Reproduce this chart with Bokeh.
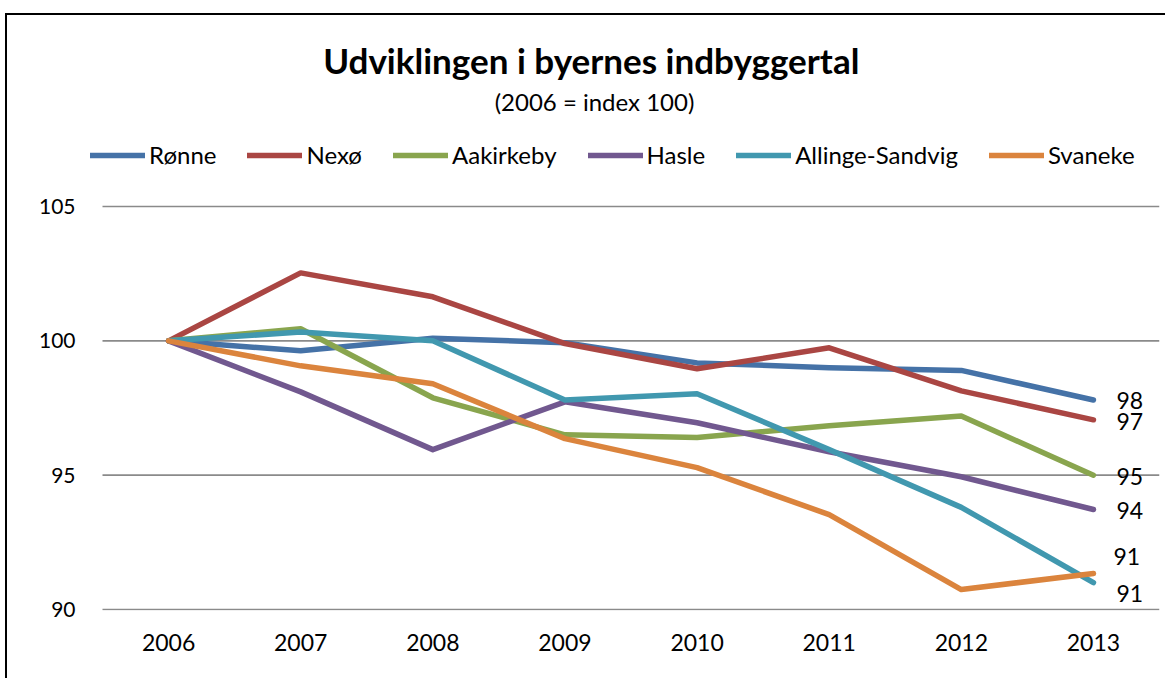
from bokeh.plotting import figure
from bokeh.models import (Range1d, FixedTicker, Legend, LegendItem, Label,
                          ColumnDataSource)
from bokeh.core.properties import value
from bokeh.embed import file_html
from bokeh.resources import INLINE

# ---------------- data ----------------
years = [2006, 2007, 2008, 2009, 2010, 2011, 2012, 2013]
year_labels = ["2006", "2007", "2008", "2009", "2010", "2011", "2012", "2013"]
series_names = ["Rønne", "Nexø", "Aakirkeby", "Hasle", "Allinge-Sandvig", "Svaneke"]
ronne = [100.0, 99.63, 100.10, 99.93, 99.18, 99.00, 98.90, 97.80]
nexo = [100.0, 102.53, 101.64, 99.90, 98.96, 99.74, 98.14, 97.06]
aakirkeby = [100.0, 100.45, 97.88, 96.50, 96.40, 96.84, 97.20, 95.00]
hasle = [100.0, 98.10, 95.95, 97.73, 96.95, 95.87, 94.94, 93.72]
allinge = [100.0, 100.33, 100.00, 97.80, 98.03, 95.95, 93.80, 91.00]
svaneke = [100.0, 99.07, 98.40, 96.36, 95.28, 93.53, 90.74, 91.34]
y_ticks = [90, 95, 100, 105]

series = [ronne, nexo, aakirkeby, hasle, allinge, svaneke]
colors = ["#4572A7", "#AA4643", "#89A54E", "#71588F", "#4198AF", "#DB843D"]

# ---------------- geometry (page pixels) ----------------
CANVAS_X0, CANVAS_Y0 = 8, 15          # where the canvas lands on the page
FRAME_L, FRAME_R = 84, 1160           # frame left / right (page px)
FRAME_T, FRAME_B = 15, 610            # frame top / bottom (page px)
CAT_L = 103                           # left edge of the category area
PX_PER_X = (FRAME_R - CAT_L) / len(years)
Y_LO = 89.96
PX_PER_Y = 405.0 / 15.08

x_start = years[0] - 0.5 - (CAT_L - FRAME_L) / PX_PER_X
x_end = years[-1] + 0.5
y_end = Y_LO + (FRAME_B - FRAME_T) / PX_PER_Y

W, H = 1160, 665
p = figure(width=W, height=H, output_backend="svg", toolbar_location=None,
           x_range=Range1d(x_start, x_end), y_range=Range1d(Y_LO, y_end),
           min_border_left=FRAME_L - CANVAS_X0,
           min_border_right=CANVAS_X0 + W - FRAME_R,
           min_border_top=FRAME_T - CANVAS_Y0,
           min_border_bottom=CANVAS_Y0 + H - FRAME_B,
           background_fill_color="white", border_fill_color="white")
p.outline_line_color = None
p.styles = {"border-left": "2px solid #000", "border-top": "2px solid #000",
            "margin-top": "13px", "margin-left": "5px"}

FONT = "Lato"


def to_x(px):
    return x_start + (px - FRAME_L) / PX_PER_X


def to_y(py):
    return Y_LO + (FRAME_B - py) / PX_PER_Y


# axes
for ax in (p.xaxis, p.yaxis):
    ax.axis_line_color = None
    ax.major_tick_line_color = None
    ax.minor_tick_line_color = None
    ax.major_label_text_font = FONT
    ax.major_label_text_color = "#000000"

p.xaxis.ticker = FixedTicker(ticks=years)
p.xaxis.major_label_overrides = {y: l for y, l in zip(years, year_labels)}
p.xaxis.major_label_text_font_size = "23px"
p.xaxis.major_label_standoff = 17

p.yaxis.ticker = FixedTicker(ticks=y_ticks)
p.yaxis.major_label_text_font_size = "21px"
p.yaxis.major_label_standoff = 2

p.xgrid.grid_line_color = None
p.ygrid.grid_line_color = None

# horizontal gridlines across the category area
p.segment(x0=[years[0] - 0.5] * len(y_ticks), x1=[years[-1] + 0.5] * len(y_ticks),
          y0=y_ticks, y1=y_ticks, line_color="#8a8a8a", line_width=1.6)

# lines
renderers = []
for vals, c in zip(series, colors):
    r = p.line(years, vals, line_color=c, line_width=5.5,
               line_cap="round", line_join="round")
    renderers.append(r)

# end labels
last_vals = [s[-1] for s in series]
end_src = ColumnDataSource(dict(
    x=[years[-1]] * len(series),
    y=last_vals,
    t=[str(int(round(v))) for v in last_vals],
    dx=[23, 23, 23, 23, 23, 20],
    dy=[1, 2, 1, 1, 11, -17],
))
p.text(x="x", y="y", text="t", x_offset="dx", y_offset="dy", source=end_src,
       text_font=value(FONT), text_font_size="23px", text_color="#000000",
       text_align="left", text_baseline="middle")

# legend
legend = Legend(
    items=[LegendItem(label=n, renderers=[r]) for n, r in zip(series_names, renderers)],
    orientation="horizontal", location=(91 - FRAME_L, FRAME_B - 169),
    label_text_font=FONT, label_text_font_size="24px", label_text_color="#000000",
    glyph_width=55, glyph_height=20, label_height=26, label_standoff=4,
    spacing=31, padding=0, margin=0, border_line_color=None,
    background_fill_alpha=0,
)
p.add_layout(legend, "center")

# title & subtitle
p.add_layout(Label(x=to_x(596), y=to_y(59), text="Udviklingen i byernes  indbyggertal",
                   text_font=FONT, text_font_size="35px", text_font_style="bold",
                   text_align="center", text_baseline="middle", text_color="#000000"))
p.add_layout(Label(x=to_x(595), y=to_y(101), text="(2006 = index 100)",
                   text_font=FONT, text_font_size="24px",
                   text_align="center", text_baseline="middle", text_color="#000000"))

open("out.html", "w").write(file_html(p, INLINE))
